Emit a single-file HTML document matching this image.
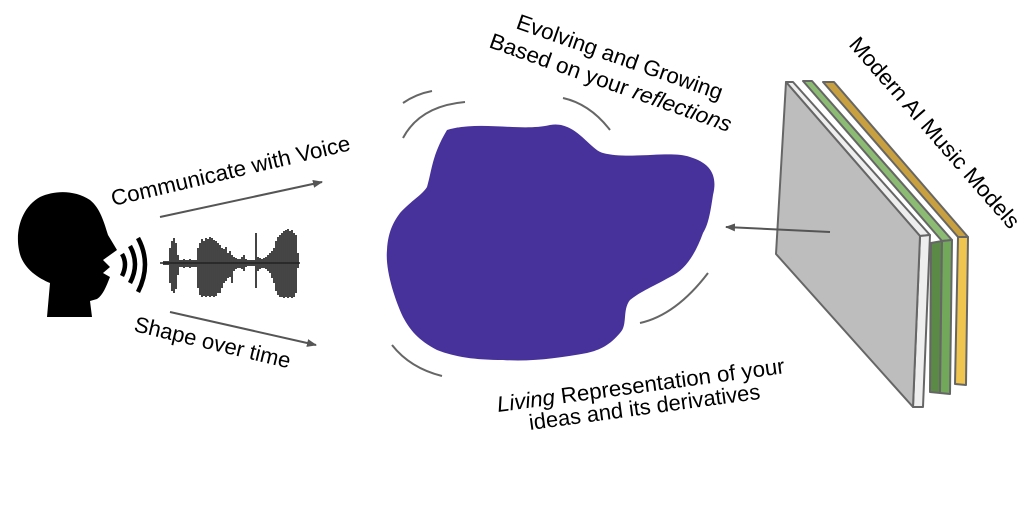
<!DOCTYPE html>
<html><head><meta charset="utf-8"><style>html,body{margin:0;padding:0;background:#fff}svg{display:block}</style></head>
<body>
<svg width="1023" height="512" viewBox="0 0 1023 512" xmlns="http://www.w3.org/2000/svg" font-family="Liberation Sans, Arial, sans-serif">
<defs>
<marker id="ah" markerWidth="10" markerHeight="8" refX="9" refY="4" orient="auto" markerUnits="userSpaceOnUse">
<path d="M0,0 L10,4 L0,8 Z" fill="#555"/></marker>
</defs>
<!-- head -->
<path d="M40,197 C55,190 75,190 90,200 C100,208 104,222 108,235 L117,250 L103,260 L110,267 L103,273 L110,277 C106,287 103,295 97,299 L90,301 L92,317 L47,317 L50,283 C38,278 22,268 19,250 C15,230 22,207 40,197 Z" fill="#000"/>
<!-- sound waves -->
<path d="M122,254 Q128,264 122,276" stroke="#000" stroke-width="4.5" fill="none"/>
<path d="M130,246 Q140,264 130,283" stroke="#000" stroke-width="4.5" fill="none"/>
<path d="M138,238 Q152,264 138,292" stroke="#000" stroke-width="4.5" fill="none"/>
<!-- waveform -->
<path d="M164,261V265 M166,261V265 M168,261V265 M170,248V283 M172,241V291 M174,238V293 M176,243V289 M178,255V275 M180,260V267 M182,260V267 M184,259V268 M186,260V267 M188,260V267 M190,259V268 M192,260V267 M194,260V267 M196,260V267 M198,248V288 M200,243V295 M202,239V297 M204,241V296 M206,238V297 M208,239V296 M210,237V297 M212,238V296 M214,240V297 M216,241V296 M218,243V293 M220,245V293 M222,248V288 M224,249V283 M226,247V281 M228,253V278 M230,251V277 M232,255V283 M234,257V271 M236,258V269 M238,259V268 M240,259V268 M242,257V269 M244,255V271 M246,259V267 M248,260V266 M250,260V266 M252,260V266 M254,260V266 M256,233V288 M258,257V271 M260,258V269 M262,259V268 M264,258V268 M266,257V269 M268,255V271 M270,253V273 M272,251V278 M274,248V283 M276,241V291 M278,237V295 M280,235V297 M282,233V297 M284,231V298 M286,230V297 M288,229V298 M290,231V297 M292,230V298 M294,233V297 M296,235V293 M298,253V268" stroke="#1a1a1a" stroke-width="1.8" fill="none" opacity="0.9"/>
<line x1="160" y1="263" x2="300" y2="263" stroke="#222" stroke-width="1.5"/>
<!-- left arrows -->
<line x1="160" y1="217" x2="322" y2="182" stroke="#555" stroke-width="2" marker-end="url(#ah)"/>
<line x1="170" y1="312" x2="316" y2="345" stroke="#555" stroke-width="2" marker-end="url(#ah)"/>
<text x="113" y="206" font-size="22" transform="rotate(-13.2 113 206)" textLength="245" lengthAdjust="spacingAndGlyphs">Communicate with Voice</text>
<text x="133" y="331" font-size="22" transform="rotate(13.5 133 331)" textLength="160" lengthAdjust="spacingAndGlyphs">Shape over time</text>
<!-- blob -->
<path d="M447,130 C480,120 520,132 550,125 C575,120 590,150 603,153 C630,160 670,150 690,157 C710,163 718,175 713,195 C710,215 708,225 703,233 C695,255 685,270 670,277 C650,288 640,292 630,300 C622,310 628,325 620,333 C610,345 600,350 587,353 C560,358 530,362 503,360 C475,360 455,357 437,350 C418,340 410,330 403,317 C395,300 385,270 387,250 C388,230 395,220 400,213 C412,200 422,195 427,187 C432,170 432,155 447,130 Z" fill="#46329a"/>
<g stroke="#666" stroke-width="2" fill="none">
<path d="M403,103 Q416,94 432,91"/>
<path d="M403,138 Q420,106 465,102"/>
<path d="M563,98 Q590,104 610,130"/>
<path d="M708,273 Q676,315 640,323"/>
<path d="M392,345 Q410,368 442,376"/>
</g>
<text font-size="22" transform="rotate(19.4 515 28)" x="515" y="28" textLength="217" lengthAdjust="spacingAndGlyphs">Evolving and Growing</text>
<text font-size="22" transform="rotate(19.5 488 47)" x="488" y="47" textLength="255" lengthAdjust="spacingAndGlyphs">Based on your <tspan font-style="italic">reflections</tspan></text>
<text font-size="22" transform="rotate(-7.7 498 412)" x="498" y="412" textLength="290" lengthAdjust="spacingAndGlyphs"><tspan font-style="italic">Living</tspan> Representation of your</text>
<text font-size="22" transform="rotate(-7.7 530 430)" x="530" y="430" textLength="233" lengthAdjust="spacingAndGlyphs">ideas and its derivatives</text>
<!-- layers -->
<g stroke="#666" stroke-width="2" stroke-linejoin="round">
<polygon points="823,82 834,82 968,237 958,237" fill="#c9a040"/>
<polygon points="958,237 968,237 966,385 955,384" fill="#efc54f"/>
<polygon points="803,81 812,81 952,240 942,241" fill="#8cbb73"/>
<polygon points="931,243 942,241 940,393 930,392" fill="#5a8a45"/>
<polygon points="942,241 952,240 950,394 940,393" fill="#72a85a"/>
<polygon points="786,82 793,82 930,235 920,236" fill="#eeeeee"/>
<polygon points="920,236 930,235 923,407 913,407" fill="#eeeeee"/>
<polygon points="786,82 920,236 913,407 776,254" fill="#bdbdbd"/>
</g>
<line x1="830" y1="232" x2="726" y2="227" stroke="#555" stroke-width="2" marker-end="url(#ah)"/>
<text font-size="22" transform="rotate(48.8 848 45)" x="848" y="45" textLength="246" lengthAdjust="spacingAndGlyphs">Modern AI Music Models</text>
</svg>
</body></html>
